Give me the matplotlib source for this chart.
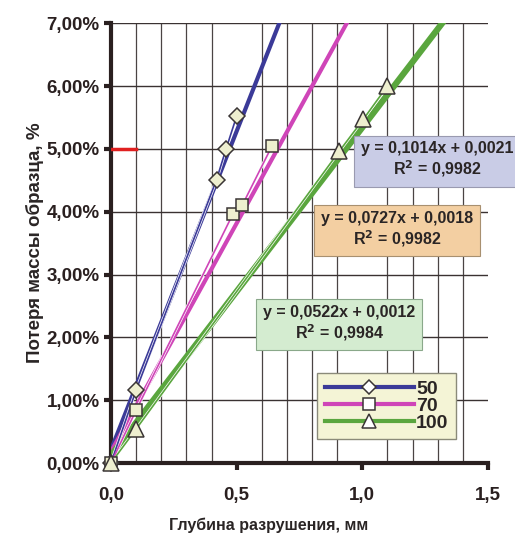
import matplotlib.pyplot as plt
import numpy as np

plt.rcParams['font.family'] = ['Liberation Sans', 'DejaVu Sans']
plt.rcParams['font.weight'] = 'bold'

# depth of destruction, mm  /  mass loss (fraction)
x50 = [0.0, 0.10, 0.42, 0.458, 0.50]
y50 = [0.0, 0.0116, 0.0451, 0.0500, 0.0552]
x70 = [0.0, 0.10, 0.486, 0.522, 0.64]
y70 = [0.0, 0.0084, 0.0397, 0.0410, 0.0504]
x100 = [0.0, 0.10, 0.908, 1.004, 1.10]
y100 = [0.0, 0.0054, 0.0496, 0.0547, 0.0600]

# linear trends (slope, intercept, R2)
fit50 = (0.1014, 0.0021, 0.9982)
fit70 = (0.0727, 0.0018, 0.9982)
fit100 = (0.0522, 0.0012, 0.9984)

labels = ['50', '70', '100']
colors = ['#3b3a98', '#cf45b8', '#5aa63e']
markers = ['D', 's', '^']
msizes = [8, 9, 11]

yticks = [0.0, 0.01, 0.02, 0.03, 0.04, 0.05, 0.06, 0.07]
ytick_labels = ['0,00%', '1,00%', '2,00%', '3,00%', '4,00%', '5,00%', '6,00%', '7,00%']
xticks = [0.0, 0.5, 1.0, 1.5]
xtick_labels = ['0,0', '0,5', '1,0', '1,5']

fig = plt.figure(figsize=(5.15, 5.39), dpi=100)
ax = fig.add_axes([0.2155, 0.141, 0.732, 0.816])

ax.set_xlim(0, 1.5)
ax.set_ylim(0, 0.07)

# grid
ax.set_xticks(np.arange(0, 1.51, 0.1), minor=True)
ax.grid(True, which='minor', axis='x', color='#4a4444', lw=0.9)
ax.grid(True, which='major', axis='y', color='#3a3232', lw=1.0)
ax.set_axisbelow(True)

xs = [x50, x70, x100]
ys = [y50, y70, y100]
fits = [fit50, fit70, fit100]
trend_lw = [3.0, 3.0, 4.5]
for i in range(3):
    k, b, r2 = fits[i]
    tx = np.array([0.0, 1.5])
    ax.plot(tx, k * tx + b, color=colors[i], lw=trend_lw[i], zorder=3,
            solid_capstyle='butt')
    ax.plot(xs[i], ys[i], color='white', lw=2.2, zorder=3.5)
    ax.plot(xs[i], ys[i], color=colors[i], lw=1.2, zorder=3.6)
    ax.plot(xs[i], ys[i], linestyle='none', marker=markers[i], ms=msizes[i],
            mfc='#eeefcf', mec='#3a3535', mew=1.1, zorder=4, clip_on=False)

# red mark at 5 %
ax.axhline(0.05, xmin=0, xmax=0.1 / 1.5, color='#e02020', lw=2.5, zorder=3)

# trend equations
box_text = []
for k, b, r2 in fits:
    s = 'y = %.4fx + %.4f\nR$^2$ = %.4f' % (k, b, r2)
    box_text.append(s.replace('.', ','))
box_pos = [(0.866, 0.688), (0.759, 0.530), (0.605, 0.316)]
box_fc = ['#c9cce6', '#f3cfa2', '#d4ecd0']
box_ec = ['#9a9ab0', '#a89070', '#8aa88a']
for i in range(3):
    ax.text(box_pos[i][0], box_pos[i][1], box_text[i], transform=ax.transAxes,
            ha='center', va='center', fontsize=11.5, color='#2a2525',
            linespacing=1.15, zorder=6,
            bbox=dict(boxstyle='square,pad=0.45', fc=box_fc[i], ec=box_ec[i], lw=0.8))

# legend
handles = []
for i in range(3):
    h, = ax.plot([], [], color=colors[i], lw=3, marker=markers[i], ms=msizes[i] - 1,
                 mfc='white', mec='#3a3535', mew=1.1)
    handles.append(h)
leg = ax.legend(handles, labels, loc='upper left', bbox_to_anchor=(0.546, 0.205),
                fontsize=14, handlelength=4.6, handletextpad=0.1, labelspacing=-0.05,
                borderpad=0.4, frameon=True, fancybox=False, borderaxespad=0)
leg.get_frame().set_facecolor('#f4f4d6')
leg.get_frame().set_edgecolor('#8a8a7a')
leg.get_frame().set_alpha(1)
leg.set_zorder(7)
for t in leg.get_texts():
    t.set_color('#2a2525')

# axes styling
for side in ['top', 'right']:
    ax.spines[side].set_visible(False)
ax.spines['left'].set_linewidth(3)
ax.spines['bottom'].set_linewidth(3)
ax.spines['left'].set_color('#2a2020')
ax.spines['bottom'].set_color('#2a2020')

ax.set_yticks(yticks)
ax.set_yticklabels(ytick_labels)
ax.set_xticks(xticks)
ax.set_xticklabels(xtick_labels)
ax.tick_params(axis='y', which='major', length=5, width=3, color='#2a2020',
               labelsize=13.5, labelcolor='#2a2020', pad=3)
ax.tick_params(axis='x', which='major', length=5, width=3, color='#2a2020',
               labelsize=13.5, labelcolor='#2a2020', pad=12)
ax.tick_params(axis='x', which='minor', length=0)

ax.set_xlabel('Глубина разрушения, мм', fontsize=11.5, fontweight='bold',
              color='#2a2525')
ax.xaxis.set_label_coords(0.417, -0.125)
ax.set_ylabel('Потеря массы образца, %', fontsize=13.5, fontweight='bold',
              color='#2a2525', labelpad=2)

fig.savefig('out.png', dpi=100, facecolor='white')
